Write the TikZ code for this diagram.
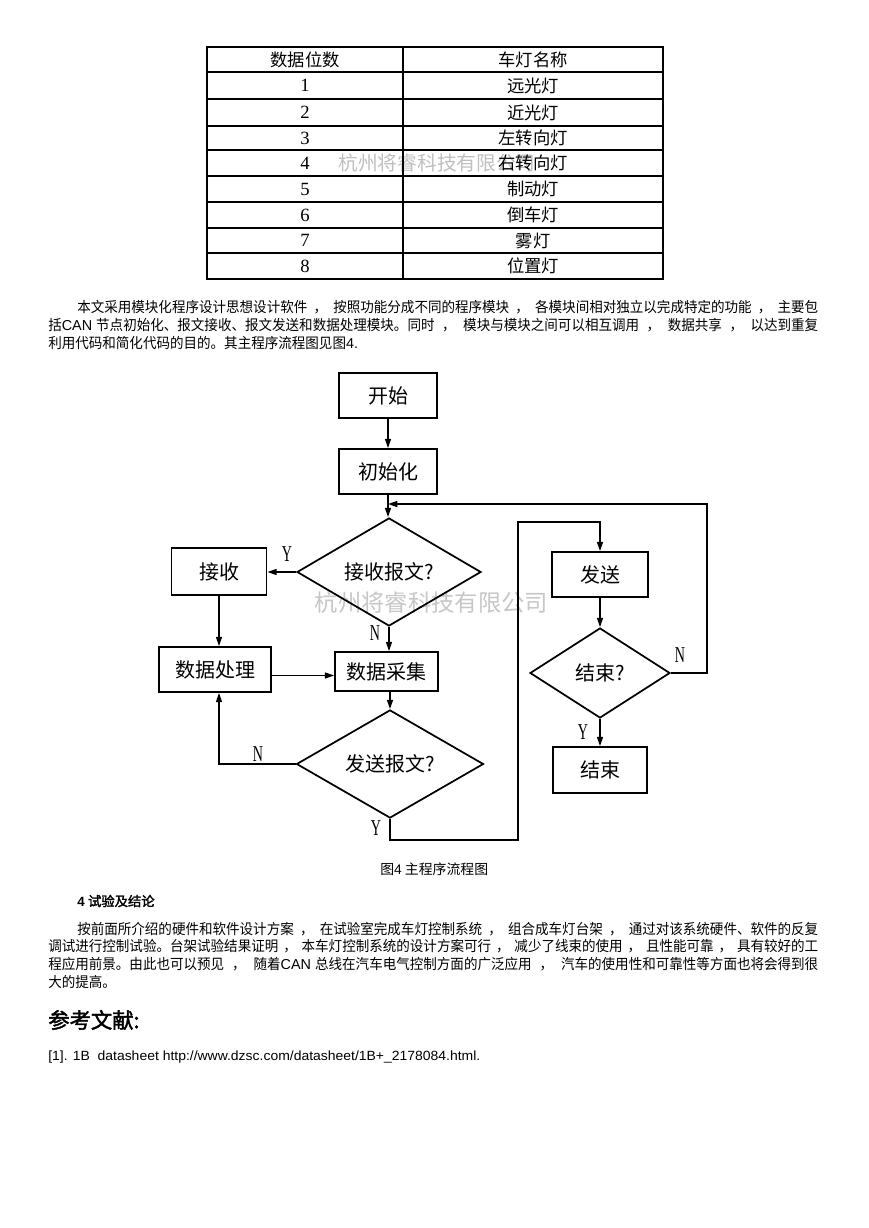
\documentclass[tikz,border=0pt]{standalone}
\usepackage{fontspec}
\usepackage{graphicx}
\usetikzlibrary{shapes.geometric,arrows.meta,calc}
\setmainfont{Liberation Serif}
\newfontfamily\zh{Noto Sans CJK SC}
\newfontfamily\zhn[FakeStretch=0.94]{Noto Sans CJK SC}
\newfontfamily\zhb[FakeBold=2]{Noto Sans CJK SC}
\newfontfamily\en{Liberation Sans}
\newfontfamily\tms{Liberation Serif}
\newcommand\ynlab[1]{\scalebox{0.62}[1]{#1}}
\tikzset{
  tline/.style={line width=1pt},
  touter/.style={line width=1.4pt},
  tcell/.style={inner sep=0pt, font=\zh\fontsize{13}{13}\selectfont},
  tnum/.style={inner sep=0pt, font=\tms\fontsize{14}{14}\selectfont},
  pl/.style={anchor=west, inner sep=0pt, font=\zhn\fontsize{10.8}{12}\selectfont},
  fbox/.style={draw, line width=1.3pt, inner sep=0pt, font=\zh\fontsize{15}{15}\selectfont},
  fdia/.style={draw, diamond, line width=1.3pt, inner sep=0pt, font=\zh\fontsize{15}{15}\selectfont},
  arr/.style={line width=1.15pt, -{Triangle[length=7pt,width=4.5pt]}},
  yn/.style={inner sep=0pt, font=\tms\fontsize{17}{17}\selectfont},
  wmark/.style={inner sep=0pt, text=black!25},
}
\begin{document}
\begin{tikzpicture}[x=0.75pt,y=-0.75pt]
\path[use as bounding box, fill=white] (0,0) rectangle (868,1228);

% ---------- table ----------
\node[wmark, font=\zh\fontsize{14.8}{15}\selectfont] (wm1) at (437,163) {杭州将睿科技有限公司};
\foreach \yy in {72,99,126,150,176,202,228,253}
  \draw[tline] (207,\yy) -- (663,\yy);
\draw[tline] (403,47) -- (403,279);
\draw[touter] (207,47) rectangle (663,279);
\node[tcell] (h1) at (305,59.5) {数据位数};
\node[tcell] (h2) at (533,59.5) {车灯名称};
\foreach \n/\yy/\t in {1/85.5/远光灯, 2/112.5/近光灯, 3/138/左转向灯, 4/163/右转向灯, 5/189/制动灯, 6/215/倒车灯, 7/240.5/雾灯, 8/266/位置灯}{
  \node[tnum] (n\n) at (305,\yy) {\n};
  \node[tcell] (t\n) at (533,\yy) {\t};
}

% ---------- paragraph 1 ----------
\node[pl] (p1a) at (77,307) {\makebox[555.75pt][s]{本文采用模块化程序设计思想设计软件 ， 按照功能分成不同的程序模块 ， 各模块间相对独立以完成特定的功能 ， 主要包}};
\node[pl] (p1b) at (48,325) {\makebox[577.5pt][s]{括{\en CAN}\kern3pt 节点初始化、报文接收、报文发送和数据处理模块。同时 ， 模块与模块之间可以相互调用 ， 数据共享 ， 以达到重复}};
\node[pl] (p1c) at (48,343) {利用代码和简化代码的目的。其主程序流程图见图{\en 4.}};

% ---------- flowchart ----------
\node[wmark, text=black!22, font=\zh\fontsize{17.5}{18}\selectfont] (wm2) at (431.5,603) {杭州将睿科技有限公司};

\node[fbox, minimum width=73.5pt, minimum height=33.75pt] (start) at (388,395.5) {开始};
\node[fbox, minimum width=73.5pt, minimum height=33.75pt] (init) at (388,471.5) {初始化};
\node[fdia, minimum width=138pt, minimum height=72pt] (d1) at (389,572) {接收报文?};
\node[fbox, minimum width=71.25pt, minimum height=35.25pt] (recv) at (219,571.5) {接收};
\node[fbox, minimum width=84pt, minimum height=33.75pt] (proc) at (215,669.5) {数据处理};
\node[fbox, minimum width=77.25pt, minimum height=29.25pt] (coll) at (386.5,671.5) {数据采集};
\node[fdia, minimum width=140.25pt, minimum height=69pt] (d2) at (390,764) {发送报文?};
\node[fbox, minimum width=72pt, minimum height=33.75pt] (send) at (600,574.5) {发送};
\node[fdia, minimum width=105pt, minimum height=67.5pt] (d3) at (600,673) {结束?};
\node[fbox, minimum width=70.5pt, minimum height=34.5pt] (end) at (600,770) {结束};

\coordinate (fb) at (init.south |- 0,504);
\coordinate (c1) at (707,504);
\coordinate (y2a) at (d2.south |- 0,840);
\coordinate (y2b) at (518,522);

\draw[arr] (start) -- (init);
\draw[arr] (init.south) -- (init.south |- d1.north);
\draw[arr] (d1.west) -- (d1.west -| recv.east);
\draw[arr] (recv.south) -- (recv.south |- proc.north);
\draw[arr] (d1.south) -- (d1.south |- coll.north);
\draw[arr] ([yshift=-4.5pt]proc.east) -- ([yshift=-4.5pt]proc.east -| coll.west);
\draw[arr] (d2.north |- coll.south) -- (d2.north);
\draw[arr] (d2.west) -| (recv.south |- proc.south);
\draw[arr] (d2.south) -- (y2a) -| (y2b) -| (send.north);
\draw[arr] (send) -- (d3);
\draw[arr] (d3) -- (end);
\draw[arr] (d3.east) -| (c1) -- (fb);

\node[yn] (lY1) at (287,554) {\ynlab{Y}};
\node[yn] (lN1) at (375,633) {\ynlab{N}};
\node[yn] (lN2) at (258,754) {\ynlab{N}};
\node[yn] (lY2) at (376,828) {\ynlab{Y}};
\node[yn] (lN3) at (680,655) {\ynlab{N}};
\node[yn] (lY3) at (583,732) {\ynlab{Y}};

\node[pl, font=\zh\fontsize{10.4}{12}\selectfont] (cap) at (380,869) {图{\en 4} 主程序流程图};

% ---------- section 4 ----------
\node[anchor=west, inner sep=0pt, font=\fontsize{10}{12}\selectfont] (sec) at (77,901) {{\en\bfseries 4} {\zhb 试验及结论}};
\node[pl] (p2a) at (77,929) {\makebox[555.75pt][s]{按前面所介绍的硬件和软件设计方案 ， 在试验室完成车灯控制系统 ， 组合成车灯台架 ， 通过对该系统硬件、软件的反复}};
\node[pl] (p2b) at (48,946) {\makebox[577.5pt][s]{调试进行控制试验。台架试验结果证明 ， 本车灯控制系统的设计方案可行 ， 减少了线束的使用 ， 且性能可靠 ， 具有较好的工}};
\node[pl] (p2c) at (48,964) {\makebox[577.5pt][s]{程应用前景。由此也可以预见 ， 随着{\en CAN}\kern3pt 总线在汽车电气控制方面的广泛应用 ， 汽车的使用性和可靠性等方面也将会得到很}};
\node[pl] (p2d) at (48,982) {大的提高。};

% ---------- references ----------
\node[anchor=west, inner sep=0pt, font=\zhb\fontsize{16}{18}\selectfont] (refh) at (48,1020) {参考文献:};
\node[anchor=west, inner sep=0pt, font=\en\fontsize{10}{12}\selectfont] (ref1) at (48,1057) {\resizebox{324pt}{\height}{[1]. 1B\ \ datasheet http://www.dzsc.com/datasheet/1B+\_2178084.html.}};
\end{tikzpicture}
\end{document}
